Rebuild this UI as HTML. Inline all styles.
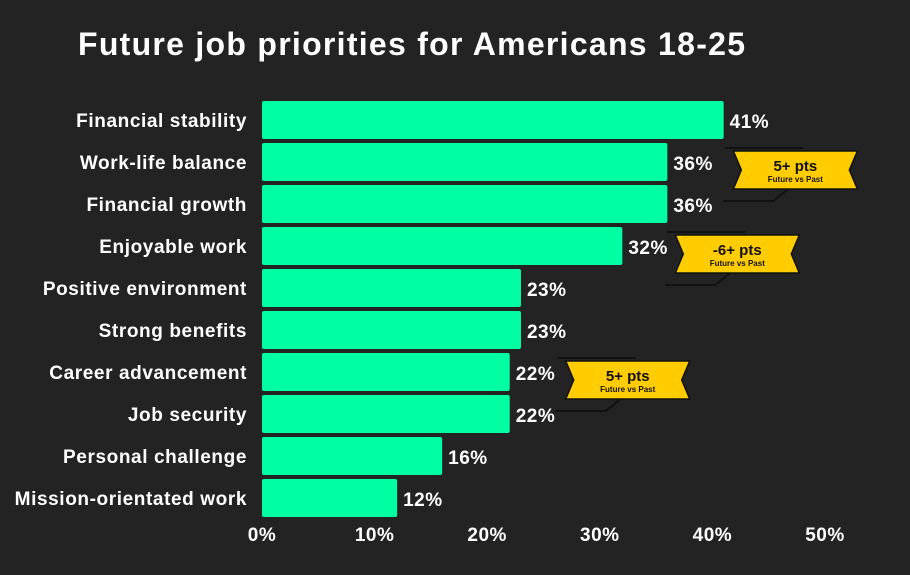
<!DOCTYPE html>
<html><head><meta charset="utf-8"><style>
html,body{margin:0;padding:0;background:#232323;}
body{width:910px;height:570px;overflow:hidden;font-family:"Liberation Sans",sans-serif;}
</style></head><body>
<svg id="chart" width="910" height="570" xmlns="http://www.w3.org/2000/svg">
<rect width="910" height="570" fill="#232323"/>
<text x="78" y="55" fill="#fff" font-size="32" font-weight="bold" textLength="667" lengthAdjust="spacing">Future job priorities for Americans 18-25</text>
<g id="bars"></g>
<g id="xaxis"></g>
<g id="badges"></g>
</svg>
<script>
const categories=["Financial stability","Work-life balance","Financial growth","Enjoyable work","Positive environment","Strong benefits","Career advancement","Job security","Personal challenge","Mission-orientated work"];
const values=[41,36,36,32,23,23,22,22,16,12];
const ticks=[0,10,20,30,40,50];
const badgeRows=[1,3,6];
const badgeMain=["5+ pts","-6+ pts","5+ pts"];
const badgeSub="Future vs Past";
const NS="http://www.w3.org/2000/svg";
const x0=262,x1=825,y0=101,step=42,bh=38;
const badgeGap=[66,53,56];
const xs=v=>x0+(x1-x0)*v/50;
const ys=i=>y0+i*step;
function mk(t,a,p){const e=document.createElementNS(NS,t);for(const k in a)e.setAttribute(k,a[k]);p.appendChild(e);return e;}
const bars=document.getElementById('bars');
categories.forEach((c,i)=>{
  const r=mk('rect',{x:x0,y:ys(i),width:xs(values[i])-x0,height:bh,fill:'#00ffa2',rx:2},bars);
  
  
  const l=mk('text',{x:247,y:ys(i)+bh/2+7,'text-anchor':'end',fill:'#fff','font-size':19,'font-weight':'bold','letter-spacing':0.6},bars);
  l.textContent=c;
  
  
  const v=mk('text',{x:xs(values[i])+6,y:ys(i)+bh/2+8,fill:'#fff','font-size':19,'font-weight':'bold','letter-spacing':0.5},bars);
  v.textContent=values[i]+'%';
  
  
});
const xa=document.getElementById('xaxis');
ticks.forEach(t=>{
  const e=mk('text',{x:xs(t),y:541,'text-anchor':'middle',fill:'#fff','font-size':19,'font-weight':'bold','letter-spacing':0.5},xa);
  e.textContent=t+'%';
  
  
});
const bg=document.getElementById('badges');
badgeRows.forEach((r,k)=>{
  const bx=xs(values[r])+badgeGap[k], by=ys(r)+8, w=124, h=38;
  const g=mk('g',{},bg);
  
  
  mk('polyline',{points:`${bx-8},${by-3} ${bx+70},${by-3}`,stroke:'#111',fill:'none','stroke-width':2},g);
  mk('polyline',{points:`${bx-10},${by+h+12} ${bx+40},${by+h+12} ${bx+55},${by+h}`,stroke:'#111',fill:'none','stroke-width':2},g);
  mk('polygon',{points:`${bx},${by} ${bx+w},${by} ${bx+w-8},${by+h/2} ${bx+w},${by+h} ${bx},${by+h} ${bx+8},${by+h/2}`,fill:'#ffcc00',stroke:'#111','stroke-width':1.5},g);
  const a=mk('text',{x:bx+w/2,y:by+20,'text-anchor':'middle',fill:'#111','font-size':15,'font-weight':'bold'},g);
  a.textContent=badgeMain[k];
  const b=mk('text',{x:bx+w/2,y:by+31,'text-anchor':'middle',fill:'#111','font-size':8,'font-weight':'bold'},g);
  b.textContent=badgeSub;
});
</script>
</body></html>
